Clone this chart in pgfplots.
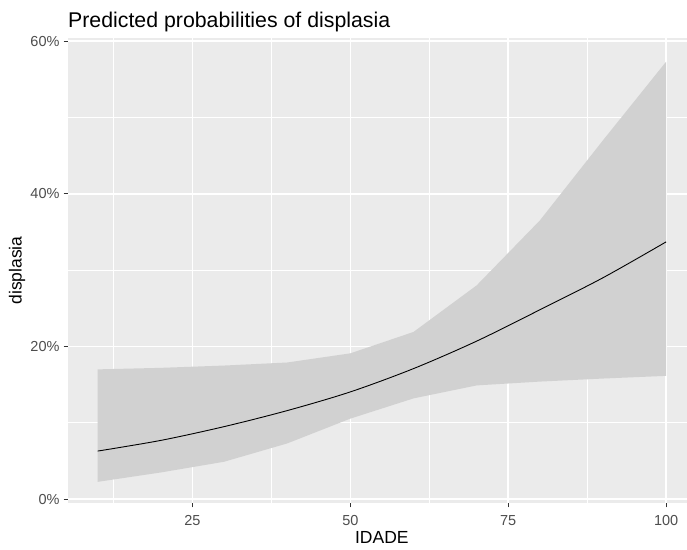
\documentclass[border=0pt]{standalone}
\usepackage{pgfplots}
\pgfplotsset{compat=1.18}
\usepgfplotslibrary{fillbetween}
\usepackage{fontspec}
\setmainfont{Liberation Sans}
\definecolor{panelgray}{HTML}{EBEBEB}
\definecolor{bandgray}{HTML}{D1D1D1}
\definecolor{ticktext}{HTML}{4D4D4D}
\definecolor{tickmark}{HTML}{333333}
\begin{document}
\begin{tikzpicture}
\begin{axis}[
  at={(68bp,47bp)}, anchor=south west,
  scale only axis, width=619bp, height=465bp,
  xmin=5.3, xmax=103.3, ymin=-0.5, ymax=60.4,
  axis background/.style={fill=panelgray},
  axis line style={draw=none},
  xtick={25,50,75,100}, xticklabels={25,50,75,100},
  ytick={0,20,40,60}, yticklabels={0\%,20\%,40\%,60\%},
  minor xtick={12.5,37.5,62.5,87.5}, minor ytick={10,30,50},
  grid=both,
  major grid style={white, line width=1.6bp},
  minor grid style={white, line width=0.8bp},
  minor tick length=0pt,
  major tick length=4.5bp,
  tick align=outside,
  xtick pos=bottom, ytick pos=left,
  tick style={draw=tickmark, line width=1bp},
  /pgf/number format/assume math mode=true,
  ticklabel style={font=\fontsize{14.5bp}{17bp}\selectfont, text=ticktext, inner sep=0pt},
  xticklabel style={anchor=base, yshift=-17.5bp},
  yticklabel style={anchor=east, xshift=-3.8bp},
  xlabel={IDADE},
  xlabel style={at={(axis description cs:0.507,0)}, anchor=base, yshift=-40.3bp, inner sep=0pt, font=\fontsize{17.5bp}{20bp}\selectfont},
  ylabel={displasia},
  ylabel style={at={([xshift=-51bp]axis description cs:0,0.5)}, anchor=center, inner sep=0pt, font=\fontsize{17.5bp}{20bp}\selectfont},
  title={Predicted probabilities of displasia},
  title style={at={(axis description cs:0,1)}, anchor=base west, yshift=5bp, inner sep=0pt, font=\fontsize{21.3bp}{24bp}\selectfont},
]
\addplot[name path=up, draw=none] coordinates {
(10,17.0) (20,17.2) (30,17.5) (40,17.9) (50,19.1) (60,21.9) (70,28.0) (80,36.5) (90,47.0) (100,57.3)
};
\addplot[name path=lo, draw=none] coordinates {
(10,2.27) (20,3.5) (30,4.9) (40,7.3) (50,10.55) (60,13.2) (70,14.9) (80,15.4) (90,15.8) (100,16.15)
};
\addplot[fill=bandgray, draw=none] fill between[of=up and lo];
\addplot[black, line width=0.9bp, smooth] coordinates {
(10,6.3) (20,7.7) (30,9.5) (40,11.6) (50,14.05) (60,17.1) (70,20.7) (80,24.8) (90,29.0) (100,33.7)
};
\end{axis}
\pgfresetboundingbox
\path[use as bounding box] (0,0) rectangle (687bp,550bp);
\end{tikzpicture}
\end{document}
